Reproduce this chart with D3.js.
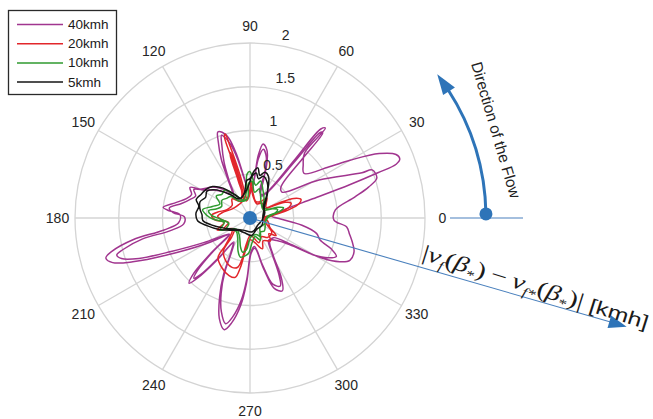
<!DOCTYPE html>
<html><head><meta charset="utf-8">
<script src="https://cdn.jsdelivr.net/npm/d3@7"></script>
<style>html,body{margin:0;padding:0;background:#fff;} svg{display:block;}</style>
</head><body><svg id="c" width="653" height="419"></svg>
<script>
// ---------- data ----------
const seriesNames = ["40kmh", "20kmh", "10kmh", "5kmh"];
const seriesColors = ["#a1358f", "#e2262b", "#2f9a2f", "#151515"];
const angleTicks = [0, 30, 60, 90, 120, 150, 180, 210, 240, 270, 300, 330];
const radiusTicks = [0.5, 1, 1.5, 2];
const radiusTickLabels = ["0.5", "1", "1.5", "2"];

// [angle (deg), |vf - vf*| (kmh)] along each trace (two passes)
const trace40 = [
  [5,0.25],[10,0.3],[14,0.42],[17,0.75],[18.5,1.2],[19.5,1.55],[20.2,1.78],[21.5,1.84],[23.5,1.82],
  [26.5,1.65],[30,1.32],[33,1.07],[39.5,0.8],[45,0.86],[50,0.97],[50,1.34],[51.5,1.3],[52.5,0.85],
  [57,0.35],[64,0.3],[70,0.32],[72,0.6],[76,0.8],[80,0.86],[82.5,0.72],[84,0.45],[90,0.3],[97,0.42],
  [102,0.75],[105,0.95],[108,1.03],[110.5,1.05],[112.5,0.95],[116,0.75],[120,0.5],[126,0.35],[133,0.45],
  [140,0.55],[145,0.6],[150,0.66],[153,0.77],[158,0.72],[163,0.76],[168,0.86],[173,1.0],[174.5,0.95],
  [177.5,0.8],[184,0.82],[188,1.0],[190.5,1.36],[193.5,1.62],[195.5,1.71],[198,1.65],[200.5,1.43],
  [204,1.04],[210,0.6],[214,0.4],[218,0.3],[222,0.6],[224.5,0.9],[227,1.02],[229,0.9],[232,0.6],
  [236,0.35],[241,0.45],[245,0.72],[249,0.97],[253,1.2],[257,1.31],[260,1.22],[264,1.0],[267,0.74],
  [272,0.4],[279,0.35],[285,0.6],[289,0.85],[294,0.91],[297.5,0.78],[302,0.5],[310,0.35],[320,0.35],
  [327,0.55],[331,0.95],[334,1.14],[337,1.24],[342,1.25],[346,1.21],[351,1.15],[354.7,1.11],
  [358.6,0.96],[365.4,0.98],[371.3,1.22],[374.6,1.4],[377.5,1.52],[381.5,1.5],[382,1.38],[388.8,0.9],
  [399,0.47],[405,0.5],[408.5,0.9],[409.5,1.28],[410.5,1.27],[411.5,0.85],[416,0.35],[424,0.28],
  [431,0.5],[435,0.72],[439,0.8],[442,0.68],[444,0.42],[450,0.28],[457,0.4],[462,0.7],[465,0.88],
  [467.5,0.97],[469,1.0],[471,0.9],[475,0.7],[479,0.5],[486,0.32],[495,0.42],[502,0.52],[508,0.6],
  [513,0.72],[518,0.67],[523,0.72],[528,0.8],[533,0.93],[536,0.88],[539,0.75],[545,0.76],[549,0.92],
  [551,1.25],[554,1.5],[555.5,1.58],[557.5,1.54],[560,1.35],[563,0.98],[568,0.6],[574,0.35],[579,0.3],
  [582,0.55],[585,0.85],[587,0.94],[589,0.85],[592,0.55],[596,0.33],[601,0.42],[605,0.68],[609,0.92],
  [613,1.12],[617,1.24],[620,1.15],[624,0.94],[627,0.7],[632,0.38],[639,0.33],[645,0.56],[649,0.8],
  [654,0.85],[657,0.73],[662,0.47],[670,0.33],[680,0.4],[686,0.55],[690,0.85],[693,1.0],[696,1.08],
  [699,1.0],[702.5,0.84],[707,0.78],[712,0.6],[718,0.35]
];
const trace20 = [
  [0,0.18],[8,0.3],[12,0.45],[16,0.58],[20,0.62],[24,0.55],[28,0.35],[33,0.22],[42,0.25],[50,0.3],
  [58,0.22],[70,0.2],[84,0.3],[88,0.42],[91,0.3],[98,0.22],[103,0.5],[105.5,0.85],[106.5,1.0],
  [107.5,0.97],[106.5,0.6],[108,0.3],[120,0.22],[133,0.3],[145,0.25],[160,0.28],[170,0.38],[176,0.44],
  [183,0.4],[190,0.3],[200,0.4],[206,0.3],[215,0.25],[222,0.3],[228,0.42],[231,0.58],[240,0.65],
  [250,0.7],[256,0.7],[259,0.58],[262,0.38],[270,0.25],[280,0.28],[292,0.38],[300,0.3],[312,0.35],
  [320,0.28],[326,0.36],[335,0.25],[345,0.22],[352,0.2],
  [362,0.15],[368,0.25],[372,0.38],[376,0.47],[380,0.5],[384,0.44],[388,0.28],[395,0.18],[410,0.22],
  [425,0.18],[442,0.25],[448,0.35],[452,0.25],[462,0.2],[465,0.5],[466.5,0.78],[467.5,0.75],
  [467.5,0.45],[470,0.22],[490,0.2],[510,0.22],[530,0.33],[537,0.37],[544,0.32],[552,0.25],[562,0.32],
  [575,0.22],[586,0.3],[591,0.48],[600,0.56],[610,0.6],[616,0.58],[619,0.48],[622,0.3],[632,0.2],
  [650,0.3],[662,0.25],[672,0.3],[686,0.3],[700,0.2],[715,0.16]
];
const trace10 = [
  [0,0.2],[8,0.25],[13,0.36],[17,0.4],[21,0.34],[27,0.22],[40,0.2],[55,0.28],[65,0.35],[74,0.44],
  [80,0.38],[86,0.45],[90,0.53],[94,0.5],[98,0.3],[110,0.22],[122,0.3],[132,0.43],[140,0.42],
  [147,0.46],[155,0.38],[163,0.45],[170,0.55],[176,0.5],[182,0.42],[190,0.3],[202,0.37],[210,0.25],
  [225,0.22],[240,0.28],[250,0.4],[256,0.46],[262,0.44],[268,0.4],[275,0.28],[285,0.22],[295,0.28],
  [305,0.2],[318,0.22],[330,0.2],[345,0.18],
  [365,0.2],[372,0.3],[377,0.33],[382,0.28],[390,0.18],[415,0.22],[432,0.35],[440,0.3],[447,0.42],
  [452,0.4],[458,0.22],[480,0.22],[492,0.33],[500,0.35],[508,0.38],[518,0.35],[525,0.4],[530,0.48],
  [536,0.44],[542,0.34],[555,0.25],[565,0.3],[580,0.2],[600,0.24],[612,0.35],[618,0.4],[624,0.36],
  [632,0.22],[650,0.2],[660,0.24],[675,0.16],[700,0.18]
];
const trace5 = [
  [0,0.15],[20,0.18],[40,0.2],[52,0.3],[60,0.42],[66,0.52],[72,0.55],[77,0.5],[81,0.58],[85,0.54],
  [90,0.45],[95,0.43],[102,0.3],[115,0.25],[123,0.32],[132,0.46],[140,0.56],[147,0.6],[154,0.62],
  [161,0.65],[167,0.6],[175,0.62],[183,0.6],[190,0.5],[200,0.38],[211,0.27],[225,0.2],[250,0.18],
  [275,0.2],[300,0.15],[330,0.16],
  [370,0.15],[400,0.22],[415,0.35],[424,0.45],[432,0.5],[438,0.46],[442,0.52],[447,0.48],[452,0.38],
  [460,0.3],[480,0.25],[490,0.35],[500,0.5],[508,0.58],[515,0.56],[522,0.6],[530,0.58],[536,0.55],
  [543,0.54],[550,0.45],[560,0.33],[575,0.22],[600,0.16],[640,0.16],[680,0.12],[710,0.14]
];
const traces = [trace40, trace20, trace10, trace5];

// annotation
const flowLabel = "Direction of the Flow";
const unitLabel = " [kmh]";

// ---------- drawing ----------
const svg = d3.select("#c");
const cx = 250, cy = 218, R = 175;
const rScale = d3.scaleLinear().domain([0, 2]).range([0, R]);
const rad = d => d * Math.PI / 180;
const pt = (deg, rho) => [cx + rho * Math.cos(rad(deg)), cy - rho * Math.sin(rad(deg))];
const gridColor = "#d4d4d4";
const textColor = "#262626";

const g = svg.append("g").attr("transform", `translate(${cx},${cy})`);

// grid rings
g.selectAll("circle.ring").data(radiusTicks).join("circle")
  .attr("r", d => rScale(d)).attr("fill", "none")
  .attr("stroke", gridColor).attr("stroke-width", 1.3);
// spokes
g.selectAll("line.spoke").data(angleTicks).join("line")
  .attr("x1", 0).attr("y1", 0)
  .attr("x2", d => R * Math.cos(rad(d))).attr("y2", d => -R * Math.sin(rad(d)))
  .attr("stroke", gridColor).attr("stroke-width", 1.3);

// angle labels
svg.selectAll("text.ang").data(angleTicks).join("text")
  .attr("x", d => pt(d, R * 1.1)[0]).attr("y", d => pt(d, R * 1.1)[1])
  .attr("text-anchor", "middle").attr("dominant-baseline", "central")
  .attr("font-family", "Liberation Sans, Arial, sans-serif").attr("font-size", 14)
  .attr("fill", textColor).text(d => d);

// radial labels
const c82 = Math.cos(rad(82)), s82 = Math.sin(rad(82));
svg.selectAll("text.rlab").data(radiusTicks).join("text")
  .attr("x", d => cx + (rScale(d) + 2) * c82 + 7)
  .attr("y", d => cy - (rScale(d) + 2) * s82 - 3)
  .attr("font-family", "Liberation Sans, Arial, sans-serif").attr("font-size", 14)
  .attr("fill", textColor).text((d, i) => radiusTickLabels[i]);

// traces
const line = d3.lineRadial()
  .angle(d => rad(90 - d[0]))
  .radius(d => rScale(d[1]))
  .curve(d3.curveCatmullRomClosed.alpha(0.5));
g.selectAll("path.trace").data(traces).join("path")
  .attr("d", line).attr("fill", "none")
  .attr("stroke", (d, i) => seriesColors[i]).attr("stroke-width", 1.5)
  .attr("stroke-linejoin", "round");

// legend
const lg = svg.append("g");
lg.append("rect").attr("x", 8.5).attr("y", 10.5).attr("width", 108).attr("height", 84)
  .attr("fill", "#fff").attr("stroke", "#2a2a2a").attr("stroke-width", 1.3);
seriesNames.forEach((n, i) => {
  const y = 24.5 + i * 19.2;
  lg.append("line").attr("x1", 17).attr("x2", 63).attr("y1", y).attr("y2", y)
    .attr("stroke", seriesColors[i]).attr("stroke-width", 1.5);
  lg.append("text").attr("x", 68).attr("y", y).attr("dominant-baseline", "central")
    .attr("font-family", "Liberation Sans, Arial, sans-serif").attr("font-size", 13.5)
    .attr("fill", "#1a1a1a").text(n);
});

// blue annotation
const blue = "#2e74b8";
const arrowDeg = -16.1, arrowLen = 392;
const tip = pt(arrowDeg, arrowLen), lineEnd = pt(arrowDeg, arrowLen - 14);
svg.append("line").attr("x1", cx).attr("y1", cy).attr("x2", lineEnd[0]).attr("y2", lineEnd[1])
  .attr("stroke", "#4a80bd").attr("stroke-width", 1.1);
{
  const b1 = pt(arrowDeg, arrowLen - 18), ux = Math.sin(rad(arrowDeg)), uy = Math.cos(rad(arrowDeg));
  const hw = 6.5;
  svg.append("path").attr("fill", blue)
    .attr("d", `M${tip[0]},${tip[1]} L${b1[0] + hw * ux},${b1[1] + hw * uy} L${b1[0] - hw * ux},${b1[1] - hw * uy} Z`);
}
// centre dot
svg.append("circle").attr("cx", cx).attr("cy", cy).attr("r", 7).attr("fill", blue);

// flow direction
const flowR = 236;
svg.append("line").attr("x1", cx + 200).attr("x2", cx + 273).attr("y1", cy).attr("y2", cy)
  .attr("stroke", "#4a80bd").attr("stroke-width", 1.1);
{
  const a0 = pt(1, flowR), a1 = pt(33, flowR);
  svg.append("path").attr("fill", "none").attr("stroke", blue).attr("stroke-width", 3)
    .attr("d", `M${a0[0]},${a0[1]} A${flowR},${flowR} 0 0 0 ${a1[0]},${a1[1]}`);
  const t = pt(37.5, flowR), bl = pt(32.5, flowR - 7), br = pt(32.5, flowR + 7);
  svg.append("path").attr("fill", blue).attr("d", `M${t[0]},${t[1]} L${bl[0]},${bl[1]} L${br[0]},${br[1]} Z`);
  svg.append("circle").attr("cx", a0[0]).attr("cy", a0[1]).attr("r", 6.5).attr("fill", blue);
}
svg.append("text").attr("transform", "translate(496,130) rotate(73.7)")
  .attr("text-anchor", "middle").attr("dominant-baseline", "central")
  .attr("font-family", "Liberation Sans, Arial, sans-serif")
  .attr("font-size", 15.5).attr("fill", "#222").text(flowLabel);

// formula label along the arrow
{
  const fg = svg.append("g").attr("transform", "translate(421,259) rotate(17.3)");
  const ft = fg.append("text").attr("font-family", "Liberation Serif, 'Times New Roman', serif")
    .attr("font-size", 22).attr("fill", "#1a1a1a");
  const parts = [
    ["|", null, 0], ["v", "italic", 0], ["f", "italic", 1], ["(", null, 0], ["β", "italic", 0],
    ["*", null, 1], [")\u2009\u2212\u2009", null, 0], ["v", "italic", 0], ["f*", "italic", 1],
    ["(", null, 0], ["β", "italic", 0], ["*", null, 1], [")|", null, 0]
  ];
  let sub = 0;
  parts.forEach(p => {
    const ts = ft.append("tspan").text(p[0]);
    if (p[1]) ts.attr("font-style", p[1]);
    const dy = (p[2] ? 5 : 0) - (sub ? 5 : 0);
    if (dy) ts.attr("dy", dy);
    if (p[2]) ts.attr("font-size", 13);
    sub = p[2];
  });
  const u = ft.append("tspan").text(unitLabel).attr("font-family", "Liberation Sans, Arial, sans-serif")
    .attr("font-size", 19);
  if (sub) u.attr("dy", -5);
  const w = ft.node().getComputedTextLength();
  ft.attr("transform", `scale(${236 / w},1)`);
}
</script></body></html>
